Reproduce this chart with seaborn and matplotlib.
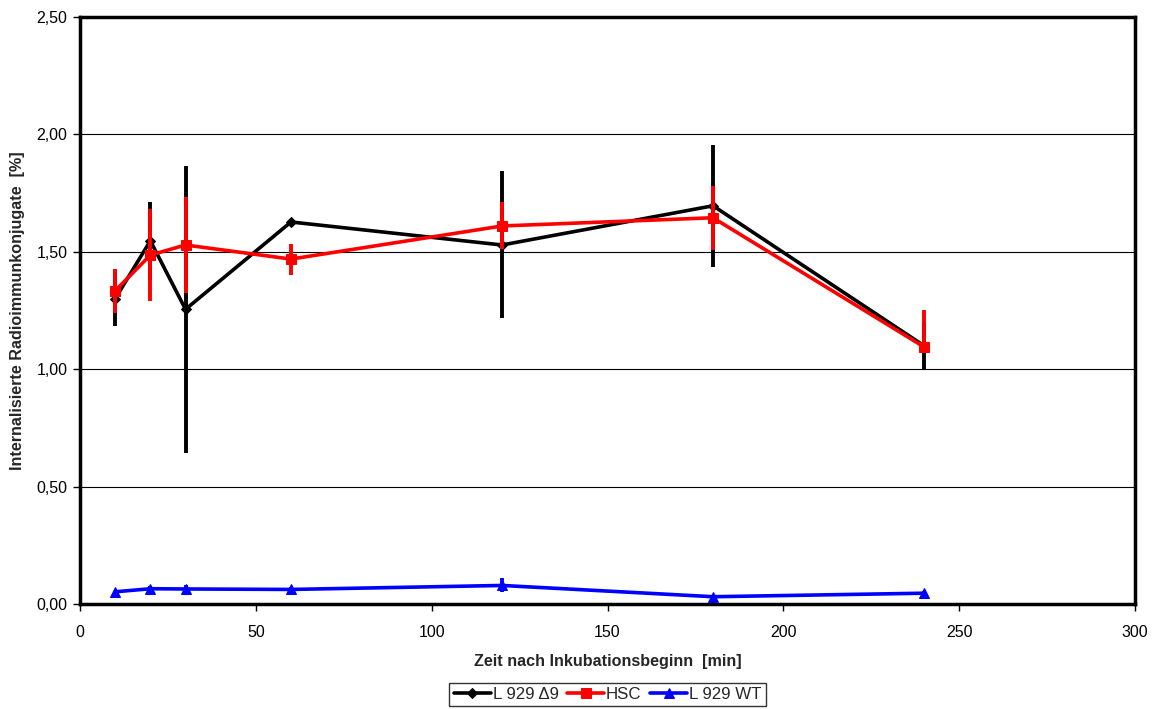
import matplotlib
matplotlib.use("Agg")
import matplotlib.pyplot as plt
import seaborn as sns
import pandas as pd
from matplotlib.ticker import FuncFormatter, MultipleLocator

# Data
time_min = [10, 20, 30, 60, 120, 180, 240]
l929_d9 = [1.30, 1.547, 1.255, 1.627, 1.529, 1.696, 1.10]
l929_d9_err_lo = [0.115, 0.167, 0.61, 0.0, 0.313, 0.259, 0.10]
l929_d9_err_hi = [0.115, 0.167, 0.61, 0.0, 0.313, 0.259, 0.10]
hsc = [1.334, 1.486, 1.529, 1.469, 1.61, 1.645, 1.095]
hsc_err_lo = [0.093, 0.195, 0.204, 0.066, 0.10, 0.137, 0.0]
hsc_err_hi = [0.093, 0.195, 0.204, 0.066, 0.10, 0.137, 0.157]
l929_wt = [0.052, 0.065, 0.064, 0.062, 0.079, 0.031, 0.046]
l929_wt_err_lo = [0.005, 0.01, 0.015, 0.01, 0.03, 0.005, 0.01]
l929_wt_err_hi = [0.005, 0.01, 0.015, 0.01, 0.03, 0.005, 0.01]

series_names = ["L 929 \u03949", "HSC", "L 929 WT"]
colors = ["#000000", "#ff0000", "#0000ff"]
markers = ["D", "s", "^"]
marker_sizes = [5.5, 7, 7.5]

sns.set_theme(style="white")
plt.rcParams["font.family"] = ["Liberation Sans", "DejaVu Sans"]

df = pd.concat([
    pd.DataFrame({"t": time_min, "v": l929_d9, "lo": l929_d9_err_lo, "hi": l929_d9_err_hi, "s": series_names[0]}),
    pd.DataFrame({"t": time_min, "v": hsc, "lo": hsc_err_lo, "hi": hsc_err_hi, "s": series_names[1]}),
    pd.DataFrame({"t": time_min, "v": l929_wt, "lo": l929_wt_err_lo, "hi": l929_wt_err_hi, "s": series_names[2]}),
])

fig = plt.figure(figsize=(11.58, 7.09), dpi=100)
ax = fig.add_axes([80 / 1158, 1 - 604 / 709, (1135 - 80) / 1158, (604 - 17) / 709])

for i, name in enumerate(series_names):
    sub = df[df["s"] == name]
    ax.errorbar(sub["t"], sub["v"], yerr=[sub["lo"], sub["hi"]], fmt="none", ecolor=colors[i],
                elinewidth=2.8, capsize=0, zorder=2 + i)
    sns.lineplot(data=sub, x="t", y="v", ax=ax, color=colors[i], marker=markers[i],
                 markersize=marker_sizes[i], markeredgecolor=colors[i], linewidth=2.6,
                 label=name, zorder=2.5 + i, errorbar=None)

ax.set_xlim(0, 300)
ax.set_ylim(0, 2.5)
ax.xaxis.set_major_locator(MultipleLocator(50))
ax.yaxis.set_major_locator(MultipleLocator(0.5))
ax.yaxis.set_major_formatter(FuncFormatter(lambda v, p: f"{v:.2f}".replace(".", ",")))
ax.grid(axis="y", color="#000000", linewidth=0.8)
ax.set_axisbelow(True)
for sp in ax.spines.values():
    sp.set_color("black")
    sp.set_linewidth(2.5)
ax.tick_params(axis="both", direction="out", length=5, width=1, colors="black",
               labelsize=11.5, bottom=True, left=True, pad=4)
ax.tick_params(axis="x", pad=10)
ax.set_xlabel("Zeit nach Inkubationsbeginn  [min]", fontsize=11.6, fontweight="bold", labelpad=10)
ax.set_ylabel("Internalisierte Radioimmunkonjugate  [%]", fontsize=11.6, fontweight="bold", labelpad=8)

leg = ax.legend(loc="center", bbox_to_anchor=(0.5, -0.154), ncol=3, frameon=True,
                fancybox=False, edgecolor="black", fontsize=12.2, handlelength=2.2,
                handletextpad=0.1, columnspacing=0.5, borderpad=0.25)
leg.get_frame().set_linewidth(1.0)

fig.savefig("out.png", dpi=100)
